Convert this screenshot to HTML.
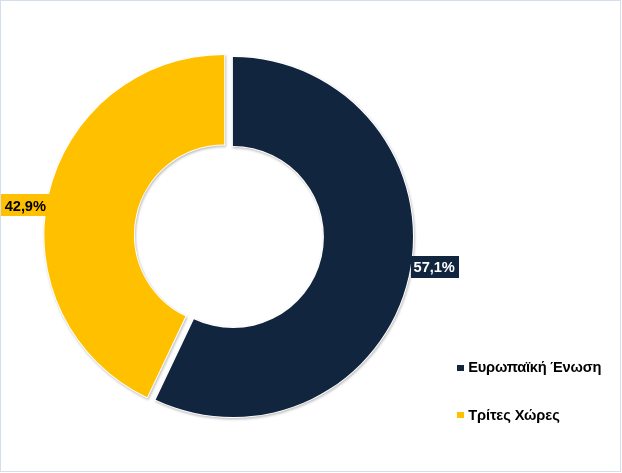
<!DOCTYPE html>
<html><head><meta charset="utf-8">
<style>
html,body{margin:0;padding:0;background:#fff;}
body{width:622px;height:473px;position:relative;overflow:hidden;font-family:"Liberation Sans","DejaVu Sans",sans-serif;}
.frame{position:absolute;left:0;top:-0.3px;width:619px;height:469.9px;border:1px solid #d4deed;box-sizing:content-box;}
svg{position:absolute;left:0;top:0;}
.lbl{position:absolute;font-weight:bold;font-size:14.67px;line-height:18.6px;height:21.5px;padding-top:2.9px;box-sizing:border-box;text-align:left;white-space:nowrap;letter-spacing:-0.1px;}
.l1{left:1.3px;top:194.2px;height:21.7px;padding-top:3.1px;width:50px;padding-left:3.5px;background:#ffc000;color:#000;}
.l2{left:410.7px;top:256px;width:48.4px;padding-left:2.9px;padding-top:2.3px;background:#11253f;color:#fff;}
.leg{position:absolute;font-weight:bold;font-size:14.67px;line-height:17px;color:#000;white-space:nowrap;}
.sq{position:absolute;width:6.3px;height:6.2px;}
</style></head><body>
<div class="frame"></div>
<svg width="622" height="473" viewBox="0 0 622 473">
<defs><filter id="sh" color-interpolation-filters="sRGB" x="-10%" y="-10%" width="120%" height="120%"><feDropShadow dx="0.8" dy="1.4" stdDeviation="0.9" flood-color="#000" flood-opacity="0.26"/></filter></defs>
<g filter="url(#sh)">
<path d="M147.06,397.26 A179.85,179.85 0 0 1 224.20,54.95 L224.20,144.50 A90.3,90.3 0 0 0 185.47,316.37 Z" fill="#ffc000" stroke="#fff" stroke-width="2" paint-order="stroke" stroke-linejoin="miter"/>
<path d="M232.90,56.90 A180.1,180.1 0 1 1 155.65,399.69 L193.87,319.20 A91.0,91.0 0 1 0 232.90,146.00 Z" fill="#11253f" stroke="#fff" stroke-width="2" paint-order="stroke" stroke-linejoin="miter"/>
</g>
</svg>
<div class="lbl l1">42,9%</div>
<div class="lbl l2">57,1%</div>
<div class="sq" style="left:457.3px;top:364.6px;background:#11253f"></div>
<div class="leg" id="g1" style="left:468.3px;top:359px;letter-spacing:-0.24px">Ευρωπαϊκή Ένωση</div>
<div class="sq" style="left:457.3px;top:411.7px;background:#ffc000"></div>
<div class="leg" id="g2" style="left:468.2px;top:407px;letter-spacing:-0.12px">Τρίτες Χώρες</div>
</body></html>
